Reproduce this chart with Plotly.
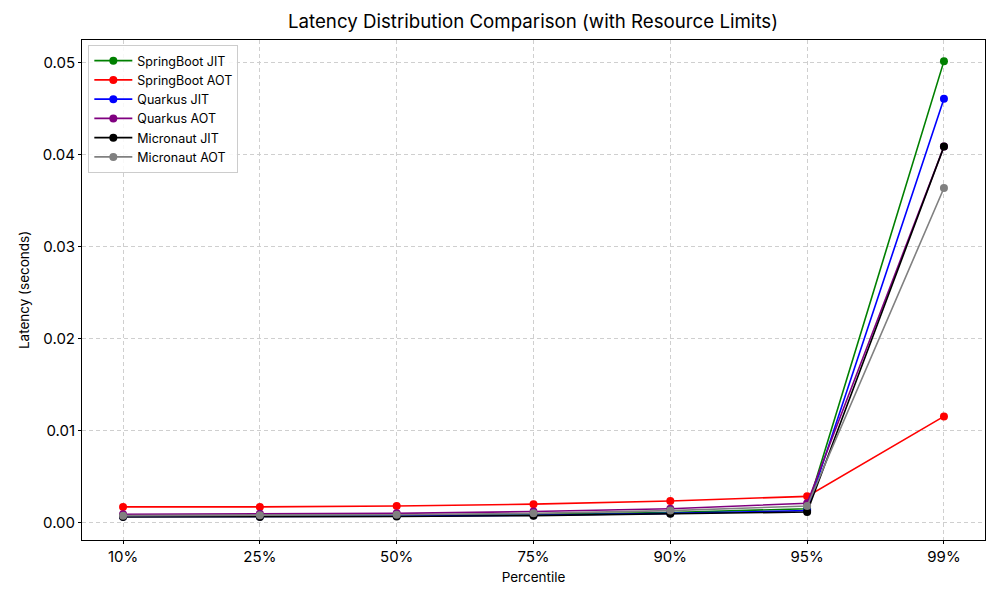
import plotly.graph_objects as go

percentiles = ['10%', '25%', '50%', '75%', '90%', '95%', '99%']

springboot_jit = [0.00075, 0.00075, 0.00080, 0.00090, 0.00110, 0.00150, 0.0502]
springboot_aot = [0.00170, 0.00170, 0.00180, 0.00200, 0.00235, 0.00285, 0.01155]
quarkus_jit = [0.00065, 0.00065, 0.00070, 0.00080, 0.00100, 0.00130, 0.0461]
quarkus_aot = [0.00090, 0.00095, 0.00100, 0.00120, 0.00150, 0.00210, 0.0409]
micronaut_jit = [0.00060, 0.00060, 0.00065, 0.00075, 0.00095, 0.00115, 0.0409]
micronaut_aot = [0.00075, 0.00078, 0.00085, 0.00100, 0.00130, 0.00180, 0.0364]

series = [
    ('SpringBoot JIT', springboot_jit, 'green'),
    ('SpringBoot AOT', springboot_aot, 'red'),
    ('Quarkus JIT', quarkus_jit, 'blue'),
    ('Quarkus AOT', quarkus_aot, 'purple'),
    ('Micronaut JIT', micronaut_jit, 'black'),
    ('Micronaut AOT', micronaut_aot, 'gray'),
]

fig = go.Figure()
for name, values, color in series:
    fig.add_trace(go.Scatter(
        x=percentiles, y=values, name=name, mode='lines+markers',
        line=dict(color=color, width=1.6),
        marker=dict(color=color, size=8)))

axis_style = dict(showgrid=True, gridcolor='#cfcfcf', griddash='4px,3px', gridwidth=1,
                  showline=True, linecolor='black', linewidth=1, mirror=True,
                  ticks='outside', ticklen=3, tickcolor='black', zeroline=False,
                  automargin=False, tickfont=dict(size=15, color='black'))

# page has an 8px body margin, so margins are shifted to compensate
fig.update_layout(
    width=1000, height=600,
    paper_bgcolor='white', plot_bgcolor='white',
    font=dict(family='Inter, Lato, sans-serif', color='black'),
    title=dict(text='Latency Distribution Comparison (with Resource Limits)',
               x=0.525, xanchor='center', y=0.977, yanchor='middle',
               font=dict(size=18.7), automargin=False),
    margin=dict(l=74, r=23, t=32, b=68),
    legend=dict(x=0.007, y=0.99, xanchor='left', yanchor='top',
                bgcolor='rgba(255,255,255,0.85)', bordercolor='#cccccc', borderwidth=1,
                font=dict(size=12.5), tracegroupgap=0, itemwidth=38),
    showlegend=True,
)
fig.update_xaxes(title=dict(text='Percentile', font=dict(size=13.5), standoff=7),
                 range=[-0.3, 6.3], **axis_style)
fig.update_yaxes(title=dict(text='Latency (seconds)', font=dict(size=13.5), standoff=10),
                 range=[-0.0019, 0.0525], tickvals=[0, 0.01, 0.02, 0.03, 0.04, 0.05],
                 tickformat='.2f', **axis_style)

fig.write_html('out.html')
